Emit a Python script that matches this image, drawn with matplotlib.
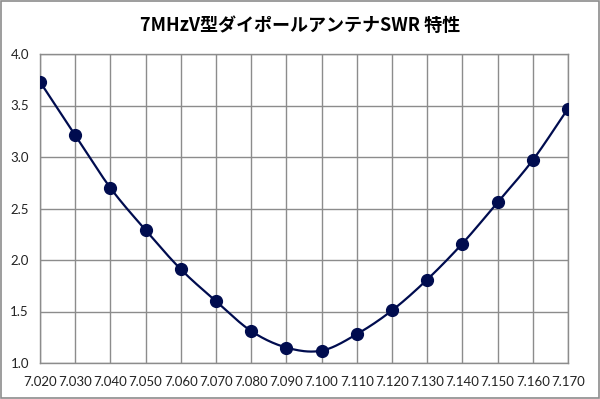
import matplotlib
matplotlib.use('Agg')
import matplotlib.pyplot as plt
import numpy as np

# データ (周波数 MHz, SWR)
freq = [7.020, 7.030, 7.040, 7.050, 7.060, 7.070, 7.080, 7.090,
        7.100, 7.110, 7.120, 7.130, 7.140, 7.150, 7.160, 7.170]
swr = [3.73, 3.21, 2.70, 2.29, 1.91, 1.60, 1.31, 1.15,
       1.12, 1.28, 1.51, 1.81, 2.16, 2.56, 2.97, 3.47]
xticks = [7.020 + 0.010 * i for i in range(16)]
yticks = [1.0, 1.5, 2.0, 2.5, 3.0, 3.5, 4.0]


def smooth(x, y, n=20):
    # Excel風のなめらかな線 (Catmull-Rom)
    x = np.asarray(x)
    y = np.asarray(y)
    px = np.concatenate([[2 * x[0] - x[1]], x, [2 * x[-1] - x[-2]]])
    py = np.concatenate([[2 * y[0] - y[1]], y, [2 * y[-1] - y[-2]]])
    xs, ys = [], []
    t = np.linspace(0, 1, n, endpoint=False)
    for i in range(1, len(px) - 2):
        for p, out in ((px, xs), (py, ys)):
            p0, p1, p2, p3 = p[i - 1], p[i], p[i + 1], p[i + 2]
            out.extend(0.5 * (2 * p1 + (-p0 + p2) * t
                              + (2 * p0 - 5 * p1 + 4 * p2 - p3) * t ** 2
                              + (-p0 + 3 * p1 - 3 * p2 + p3) * t ** 3))
    xs.append(x[-1])
    ys.append(y[-1])
    return xs, ys


plt.rcParams['font.family'] = ['Lato', 'Noto Sans CJK JP', 'DejaVu Sans']

fig = plt.figure(figsize=(6.0, 3.99), dpi=100)
ax = fig.add_axes([40 / 600, 36 / 399, 528 / 600, 309 / 399])

sx, sy = smooth(freq, swr)
ax.plot(sx, sy, color='#000C4F', lw=1.6, zorder=3)
ax.plot(freq, swr, 'o', color='#000C4F', ms=8.5, zorder=4)

ax.set_xlim(7.020, 7.170)
ax.set_ylim(1.0, 4.0)
ax.set_xticks(xticks)
ax.set_xticklabels(['%.3f' % v for v in xticks])
ax.set_yticks(yticks)
ax.set_yticklabels(['%.1f' % v for v in yticks])
ax.grid(True, color='#8C8C8C', lw=1.0)
for s in ax.spines.values():
    s.set_color('#8C8C8C')
    s.set_linewidth(1.0)
ax.tick_params(length=0, labelsize=9.5, colors='#222222')
ax.tick_params(axis='x', pad=9)
ax.tick_params(axis='y', pad=8)

fig.text(0.5, 0.935, '7MHzV型ダイポールアンテナSWR 特性', ha='center', va='center',
         fontsize=13, fontweight='bold', family=['Noto Sans CJK JP', 'DejaVu Sans'])

# 外枠
fig.add_artist(plt.Rectangle((0.002, 0.003), 0.996, 0.994, transform=fig.transFigure,
                             fill=False, edgecolor='#8C8C8C', lw=1.2))

fig.savefig('out.png', dpi=100)
